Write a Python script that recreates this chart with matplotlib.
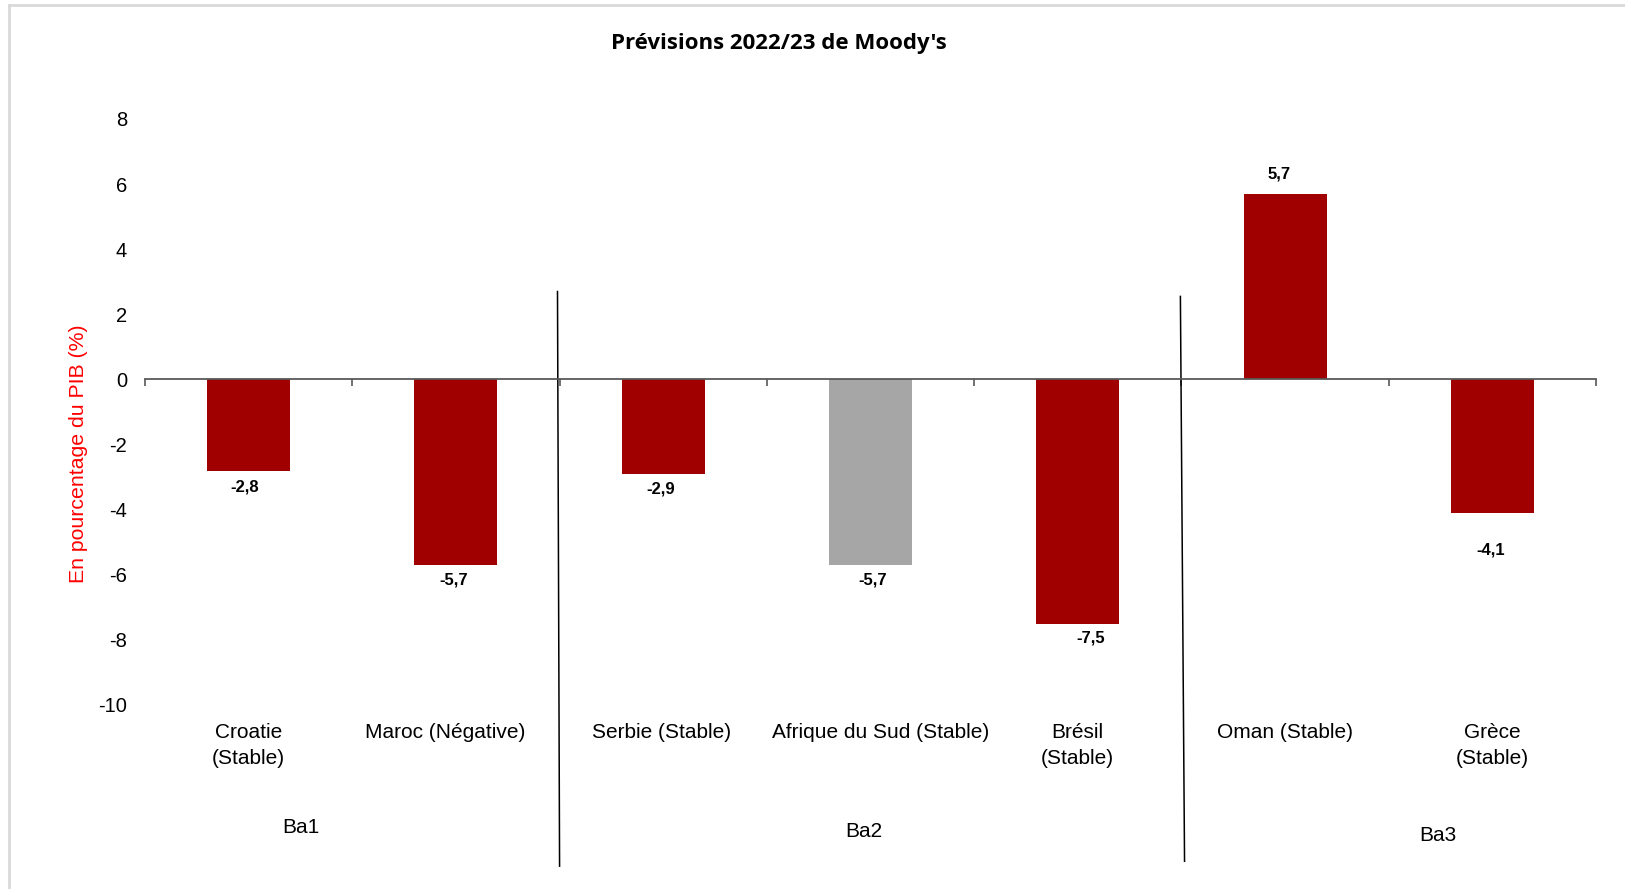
import matplotlib
matplotlib.use("Agg")
import matplotlib.pyplot as plt

# ---- data ----
categories = ["Croatie\n(Stable)", "Maroc (Négative)", "Serbie (Stable)",
              "Afrique du Sud (Stable)", "Brésil\n(Stable)", "Oman (Stable)", "Grèce\n(Stable)"]
values = [-2.8, -5.7, -2.9, -5.7, -7.5, 5.7, -4.1]
value_labels = ["-2,8", "-5,7", "-2,9", "-5,7", "-7,5", "5,7", "-4,1"]
groups = ["Ba1", "Ba2", "Ba3"]
yticks = [8, 6, 4, 2, 0, -2, -4, -6, -8, -10]

# ---- style ----
RED = "#A00000"
GRAY = "#A6A6A6"
bar_colors = [RED, RED, RED, GRAY, RED, RED, RED]
label_dx = [-0.02, -0.01, -0.01, 0.01, 0.06, -0.03, -0.01]
label_dy = [-0.5, -0.45, -0.45, -0.45, -0.45, 0.6, -1.15]
cat_dx = [0.0, -0.05, -0.01, 0.05, 0.0, 0.0, 0.0]
group_x = [0.25, 2.97, 5.735]
group_y = [-13.75, -13.9, -14.0]
sep_lines = [((1.49, 2.7), (1.5, -14.95)), ((4.495, 2.55), (4.515, -14.8))]

W, H = 1625, 889
fig = plt.figure(figsize=(W / 100, H / 100), dpi=100)
fig.patch.set_facecolor("white")

# light border (top and left)
fig.add_artist(plt.Line2D([9 / W, 9 / W], [0, 1 - 5 / H], transform=fig.transFigure,
                          color="#D9D9D9", lw=2))
fig.add_artist(plt.Line2D([9 / W, 1], [1 - 5 / H, 1 - 5 / H], transform=fig.transFigure,
                          color="#D9D9D9", lw=2))

ax_left, ax_right = 145 / W, 1596 / W
ax_top, ax_bot = 119 / H, 705 / H
ax = fig.add_axes([ax_left, 1 - ax_bot, ax_right - ax_left, ax_bot - ax_top])

x = list(range(len(values)))
ax.bar(x, values, width=0.4, color=bar_colors, zorder=2)

ax.set_xlim(-0.5, len(values) - 0.5)
ax.set_ylim(-10, 8)

for s in ["top", "right", "left"]:
    ax.spines[s].set_visible(False)
ax.spines["bottom"].set_position(("data", 0))
ax.spines["bottom"].set_color("#595959")
ax.spines["bottom"].set_linewidth(1.3)
ax.spines["bottom"].set_zorder(3)

ax.set_xticks([i - 0.5 for i in range(len(values) + 1)])
ax.set_xticklabels([])
ax.tick_params(axis="x", direction="out", length=5, color="#595959", width=1.2)

ax.set_yticks(yticks)
ax.set_yticklabels([str(v) for v in yticks], fontsize=14.5, family="Liberation Sans")
ax.tick_params(axis="y", length=0, pad=13)

fig.text(78 / W, 1 - 454 / H, "En pourcentage du PIB (%)", color="red", fontsize=15.3,
         family="Liberation Sans", rotation=90, ha="center", va="center")

# value labels
for i, (v, lab) in enumerate(zip(values, value_labels)):
    ax.text(i + label_dx[i], v + label_dy[i], lab, ha="center", va="center",
            fontsize=12, fontweight="bold", family="Liberation Sans", zorder=4)

# category labels
for i, c in enumerate(categories):
    ax.text(i + cat_dx[i], -10.55, c, ha="center", va="top", fontsize=15,
            family="Liberation Sans", linespacing=1.45, clip_on=False)

# group labels
for gx, gy, g in zip(group_x, group_y, groups):
    ax.text(gx, gy, g, ha="center", va="center", fontsize=15,
            family="Liberation Sans", clip_on=False)

# separators
for (x0, y0), (x1, y1) in sep_lines:
    ax.plot([x0, x1], [y0, y1], color="black", lw=1.1, clip_on=False, zorder=3)

fig.text(779 / W, 1 - 43 / H, "Prévisions 2022/23 de Moody's", ha="center", va="center",
         fontsize=16, fontweight="bold", family="Open Sans")

fig.savefig("out.png", dpi=100)
